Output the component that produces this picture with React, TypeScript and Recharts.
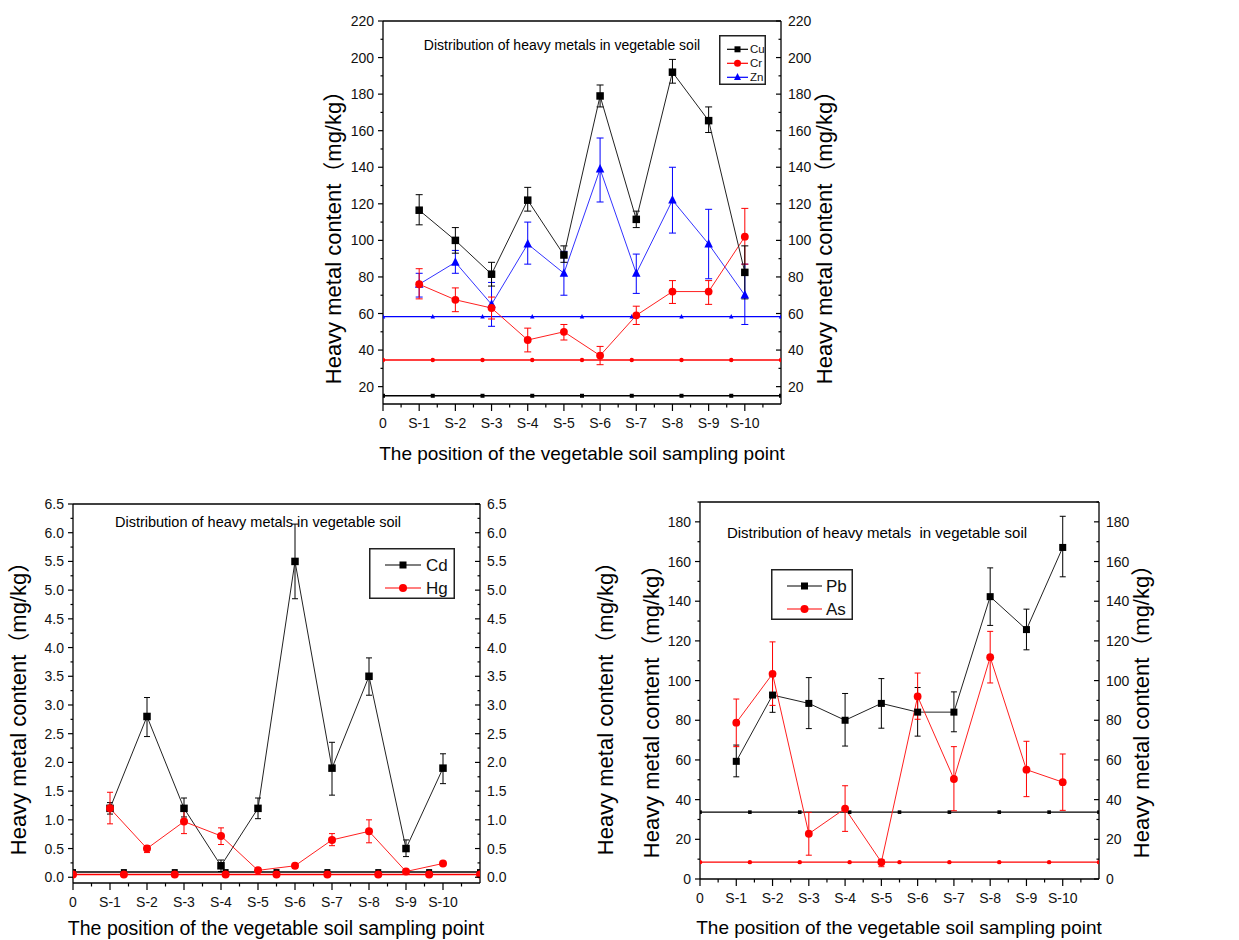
import React from 'react';
import { ComposedChart, Line, XAxis, YAxis, ErrorBar, ReferenceLine, Legend } from 'recharts';

// ---------- shared categories ----------
const X_LABELS = ['0', 'S-1', 'S-2', 'S-3', 'S-4', 'S-5', 'S-6', 'S-7', 'S-8', 'S-9', 'S-10'];
const X_TICKS = [0, 1, 2, 3, 4, 5, 6, 7, 8, 9, 10];
const SAMPLE_X = [1, 2, 3, 4, 5, 6, 7, 8, 9, 10];
const BG_X = [0, 1.375, 2.75, 4.125, 5.5, 6.875, 8.25, 9.625, 11];

// ---------- panel 1: Cu, Cr, Zn ----------
const CU = [116.5, 100, 81.5, 122, 92, 179, 111.5, 192, 165.5, 82.5];
const CU_HI = [125, 107, 88, 129, 97, 185, 116, 199, 173, 97];
const CU_LO = [108.5, 93, 75, 116, 88, 173, 107, 186, 159, 68];
const CR = [76, 67.5, 63, 45.5, 50, 37, 59, 72, 72, 102];
const CR_HI = [84.5, 74, 69, 52, 54, 42, 64, 78, 78, 117.5];
const CR_LO = [68, 61, 57, 39, 45.5, 32, 54, 65.5, 65, 87];
const ZN = [76, 88, 65, 98, 82, 139, 82, 122, 98, 70];
const ZN_HI = [82, 94.5, 77, 110, 94, 156, 92.5, 140, 117, 87];
const ZN_LO = [69, 82, 53, 87, 70, 121, 71, 104, 79, 54];
const CU_BG = [15, 15, 15, 15, 15, 15, 15, 15, 15];
const CR_BG = [34.6, 34.6, 34.6, 34.6, 34.6, 34.6, 34.6, 34.6, 34.6];
const ZN_BG = [58.3, 58.3, 58.3, 58.3, 58.3, 58.3, 58.3, 58.3, 58.3];
const Y1_TICKS = [20, 40, 60, 80, 100, 120, 140, 160, 180, 200, 220];

// ---------- panel 2: Cd, Hg ----------
const CD = [1.2, 2.8, 1.2, 0.2, 1.2, 5.5, 1.9, 3.5, 0.5, 1.9];
const CD_HI = [1.3, 3.13, 1.38, 0.3, 1.38, 6.15, 2.35, 3.82, 0.65, 2.15];
const CD_LO = [1.1, 2.45, 1.05, 0.1, 1.02, 4.85, 1.43, 3.17, 0.36, 1.63];
const HG = [1.2, 0.5, 0.97, 0.72, 0.12, 0.2, 0.65, 0.8, 0.1, 0.24];
const HG_HI = [1.48, 0.55, 1.15, 0.86, 0.16, 0.24, 0.76, 1.0, 0.12, 0.27];
const HG_LO = [0.93, 0.43, 0.76, 0.57, 0.08, 0.16, 0.55, 0.6, 0.08, 0.21];
const CD_BG = [0.09, 0.09, 0.09, 0.09, 0.09, 0.09, 0.09, 0.09, 0.09];
const HG_BG = [0.05, 0.05, 0.05, 0.05, 0.05, 0.05, 0.05, 0.05, 0.05];
const Y2_TICKS = [0, 0.5, 1, 1.5, 2, 2.5, 3, 3.5, 4, 4.5, 5, 5.5, 6, 6.5];

// ---------- panel 3: Pb, As ----------
const PB = [59.3, 92.7, 88.5, 80, 88.5, 84.1, 84.1, 142.3, 125.7, 167.1];
const PB_HI = [67.5, 102, 101.5, 93.5, 101, 96.5, 94.3, 156.8, 136, 182.8];
const PB_LO = [51.5, 84, 75.8, 67, 76, 72, 74.2, 127.8, 115.5, 152.3];
const AS = [78.8, 103.4, 22.8, 35.5, 8.5, 92, 50.4, 111.8, 55.1, 48.8];
const AS_HI = [90.7, 119.5, 33.6, 47, 9.8, 103.8, 66.7, 124.8, 69.4, 63];
const AS_LO = [66.7, 87.5, 12, 24, 6.2, 80.5, 34.4, 98.8, 41.5, 34.6];
const PB_BG = [33.7, 33.7, 33.7, 33.7, 33.7, 33.7, 33.7, 33.7, 33.7];
const AS_BG = [8.5, 8.5, 8.5, 8.5, 8.5, 8.5, 8.5, 8.5, 8.5];
const Y3_TICKS = [0, 20, 40, 60, 80, 100, 120, 140, 160, 180];

const TITLE = 'Distribution of heavy metals in vegetable soil';
const TITLE3 = 'Distribution of heavy metals\u00a0 in vegetable soil';
const Y_TITLE = 'Heavy metal content（mg/kg）';
const X_TITLE = 'The position of the vegetable soil sampling point';

const FONT = "'Liberation Sans', Arial, 'Noto Sans CJK SC', sans-serif";
const AX = '#000';

const series = (vals: number[], hi: number[], lo: number[]) =>
  SAMPLE_X.map((x, i) => ({ x, y: vals[i], err: [vals[i] - lo[i], hi[i] - vals[i]] }));
const bg = (vals: number[]) => BG_X.map((x, i) => ({ x, y: vals[i] }));

// ---------- markers ----------
const square = (s: number, fill: string) => (p: any) =>
  p.cx == null ? <g key={p.index} /> : (
    <rect key={p.index} x={p.cx - s / 2} y={p.cy - s / 2} width={s} height={s} fill={fill} />
  );
const circle = (r: number, fill: string) => (p: any) =>
  p.cx == null ? <g key={p.index} /> : <circle key={p.index} cx={p.cx} cy={p.cy} r={r} fill={fill} />;
const triangle = (s: number, fill: string) => (p: any) =>
  p.cx == null ? <g key={p.index} /> : (
    <polygon
      key={p.index}
      points={`${p.cx},${p.cy - s * 0.6} ${p.cx - s / 2},${p.cy + s * 0.4} ${p.cx + s / 2},${p.cy + s * 0.4}`}
      fill={fill}
    />
  );

// ---------- ticks ----------
const makeXTick = (pxPerUnit: number) => (p: any) => {
  const { x, y, payload } = p;
  const v = payload.value as number;
  return (
    <g>
      <line x1={x} x2={x} y1={y} y2={y + 7} stroke={AX} strokeWidth={1.2} />
      <line x1={x + pxPerUnit / 2} x2={x + pxPerUnit / 2} y1={y} y2={y + 3.5} stroke={AX} strokeWidth={1.2} />
      <text x={x} y={y + 24} textAnchor="middle" fontSize={14} fontFamily={FONT} fill="#111">
        {X_LABELS[v]}
      </text>
    </g>
  );
};

const makeYTick = (side: 'left' | 'right', halfPx: number, top: number, fmt: (v: number) => string) => (p: any) => {
  const { x, y, payload } = p;
  const v = payload.value as number;
  const dir = side === 'left' ? -1 : -1; // left: outward; right: inward
  const showMinor = v < top;
  return (
    <g>
      <line x1={x} x2={x + dir * 5} y1={y} y2={y} stroke={AX} strokeWidth={1.2} />
      {showMinor && <line x1={x} x2={x + dir * 2.5} y1={y - halfPx} y2={y - halfPx} stroke={AX} strokeWidth={1.2} />}
      <text
        x={side === 'left' ? x - 9 : x + 7}
        y={y}
        dy="0.36em"
        textAnchor={side === 'left' ? 'end' : 'start'}
        fontSize={14}
        fontFamily={FONT}
        fill="#111"
      >
        {fmt(v)}
      </text>
    </g>
  );
};

// ---------- legend ----------
type LegItem = { name: string; color: string; marker: (p: any) => any };
const makeLegend = (items: LegItem[], w: number, h: number, rows: number[], l0: number, l1: number, tx: number, fs: number) => () => (
  <svg width={w} height={h} style={{ display: 'block' }}>
    <rect x={0.75} y={0.75} width={w - 1.5} height={h - 1.5} fill="#fff" stroke="#222" strokeWidth={1.5} />
    {items.map((it, i) => (
      <g key={it.name}>
        <line x1={l0} x2={l1} y1={rows[i]} y2={rows[i]} stroke={it.color} strokeWidth={1.2} />
        {it.marker({ cx: (l0 + l1) / 2, cy: rows[i], index: i })}
        <text x={tx} y={rows[i]} dy="0.36em" fontSize={fs} fontFamily={FONT} fill="#111">
          {it.name}
        </text>
      </g>
    ))}
  </svg>
);

// ---------- text overlays ----------
const VText = ({ cx, cy, size }: { cx: number; cy: number; size: number }) => (
  <div
    style={{
      position: 'absolute', left: cx, top: cy, transform: 'translate(-50%,-50%) rotate(-90deg)',
      whiteSpace: 'nowrap', fontSize: size, fontFamily: FONT, color: '#000', lineHeight: 1,
    }}
  >
    {Y_TITLE}
  </div>
);
const HText = ({ cx, cy, size, text }: { cx: number; cy: number; size: number; text: string }) => (
  <div
    style={{
      position: 'absolute', left: cx, top: cy, transform: 'translate(-50%,-50%)',
      whiteSpace: 'nowrap', fontSize: size, fontFamily: FONT, color: '#000', lineHeight: 1,
    }}
  >
    {text}
  </div>
);

const axisLine = { stroke: AX, strokeWidth: 1.3 };

export default function App() {
  // panel 1 geometry: plot 398 x 383, x domain 0..11, y domain 10.5..220
  const p1x = 398 / 11;
  const p1y = (383 / 209.5) * 10;
  // panel 2: plot 407 x 379, y domain -0.1..6.5
  const p2x = 407 / 11;
  const p2y = (379 / 6.6) * 0.25;
  // panel 3: plot 399 x 377, y domain 0..190
  const p3x = 399 / 11;
  const p3y = (377 / 190) * 10;

  const f0 = (v: number) => String(v);
  const f1 = (v: number) => v.toFixed(1);

  return (
    <div style={{ position: 'absolute', left: 0, top: 0, width: 1239, height: 940, background: '#fff', overflow: 'hidden' }}>
      {/* ---------- Panel 1 ---------- */}
      <div style={{ position: 'absolute', left: 310, top: 0 }}>
        <ComposedChart width={540} height={470} margin={{ top: 21, right: 0, bottom: 0, left: 0 }}>
          <XAxis type="number" dataKey="x" domain={[0, 11]} ticks={X_TICKS} interval={0} tick={makeXTick(p1x)}
            tickLine={false} tickSize={0} tickMargin={0} axisLine={axisLine} height={66} allowDataOverflow />
          <YAxis yAxisId="left" type="number" domain={[10.5, 220]} ticks={Y1_TICKS} interval={0} width={73}
            tick={makeYTick('left', p1y, 220, f0)} tickLine={false} tickSize={0} tickMargin={0} axisLine={axisLine} allowDataOverflow />
          <YAxis yAxisId="right" orientation="right" type="number" domain={[10.5, 220]} ticks={Y1_TICKS} interval={0} width={69}
            tick={makeYTick('right', p1y, 220, f0)} tickLine={false} tickSize={0} tickMargin={0} axisLine={axisLine} allowDataOverflow />
          <ReferenceLine yAxisId="left" y={220} stroke={AX} strokeWidth={1.3} />
          <Line yAxisId="right" data={bg(CU_BG)} dataKey="y" stroke="#000" strokeWidth={1.4} dot={square(4, '#000')} activeDot={false} isAnimationActive={false} />
          <Line yAxisId="right" data={bg(CR_BG)} dataKey="y" stroke="#ff0000" strokeWidth={1.4} dot={circle(2.2, '#ff0000')} activeDot={false} isAnimationActive={false} />
          <Line yAxisId="right" data={bg(ZN_BG)} dataKey="y" stroke="#0000ff" strokeWidth={1.4} dot={triangle(4.5, '#0000ff')} activeDot={false} isAnimationActive={false} />
          <Line yAxisId="left" data={series(ZN, ZN_HI, ZN_LO)} dataKey="y" stroke="#3333ff" strokeWidth={1} dot={triangle(8.5, '#0000ff')} activeDot={false} isAnimationActive={false}>
            <ErrorBar dataKey="err" width={3.5} stroke="#0000ff" strokeWidth={1} direction="y" />
          </Line>
          <Line yAxisId="left" data={series(CR, CR_HI, CR_LO)} dataKey="y" stroke="#ff2020" strokeWidth={1} dot={circle(3.9, '#ff0000')} activeDot={false} isAnimationActive={false}>
            <ErrorBar dataKey="err" width={3.5} stroke="#ff0000" strokeWidth={1} direction="y" />
          </Line>
          <Line yAxisId="left" data={series(CU, CU_HI, CU_LO)} dataKey="y" stroke="#222" strokeWidth={1} dot={square(7.5, '#000')} activeDot={false} isAnimationActive={false}>
            <ErrorBar dataKey="err" width={3.5} stroke="#000" strokeWidth={1} direction="y" />
          </Line>
          <Legend layout="vertical" align="center" verticalAlign="middle"
            wrapperStyle={{ position: 'absolute', left: 409, top: 35, width: 47, height: 50 }}
            content={makeLegend([
              { name: 'Cu', color: '#000', marker: square(6, '#000') },
              { name: 'Cr', color: '#ff0000', marker: circle(3.5, '#ff0000') },
              { name: 'Zn', color: '#0000ff', marker: triangle(7, '#0000ff') },
            ], 47, 50, [14.3, 28.3, 42.3], 8, 29, 31, 11.5)} />
        </ComposedChart>
      </div>
      <HText cx={562} cy={45} size={14} text={TITLE} />
      <VText cx={334} cy={232} size={22} />
      <VText cx={825} cy={232} size={22} />
      <HText cx={582} cy={453} size={19} text={X_TITLE} />

      {/* ---------- Panel 2 ---------- */}
      <div style={{ position: 'absolute', left: 0, top: 480 }}>
        <ComposedChart width={620} height={460} margin={{ top: 24, right: 0, bottom: 0, left: 0 }}>
          <XAxis type="number" dataKey="x" domain={[0, 11]} ticks={X_TICKS} interval={0} tick={makeXTick(p2x)}
            tickLine={false} tickSize={0} tickMargin={0} axisLine={axisLine} height={57} allowDataOverflow />
          <YAxis yAxisId="left" type="number" domain={[-0.1, 6.5]} ticks={Y2_TICKS} interval={0} width={73}
            tick={makeYTick('left', p2y, 6.5, f1)} tickLine={false} tickSize={0} tickMargin={0} axisLine={axisLine} allowDataOverflow />
          <YAxis yAxisId="right" orientation="right" type="number" domain={[-0.1, 6.5]} ticks={Y2_TICKS} interval={0} width={140}
            tick={makeYTick('right', p2y, 6.5, f1)} tickLine={false} tickSize={0} tickMargin={0} axisLine={axisLine} allowDataOverflow />
          <ReferenceLine yAxisId="left" y={6.5} stroke={AX} strokeWidth={1.3} />
          <Line yAxisId="right" data={bg(CD_BG)} dataKey="y" stroke="#000" strokeWidth={1.5} dot={square(6, '#000')} activeDot={false} isAnimationActive={false} />
          <Line yAxisId="right" data={bg(HG_BG)} dataKey="y" stroke="#ff0000" strokeWidth={1.5} dot={circle(4, '#ff0000')} activeDot={false} isAnimationActive={false} />
          <Line yAxisId="left" data={series(CD, CD_HI, CD_LO)} dataKey="y" stroke="#222" strokeWidth={1} dot={square(7.5, '#000')} activeDot={false} isAnimationActive={false}>
            <ErrorBar dataKey="err" width={3} stroke="#000" strokeWidth={1} direction="y" />
          </Line>
          <Line yAxisId="left" data={series(HG, HG_HI, HG_LO)} dataKey="y" stroke="#ff2020" strokeWidth={1} dot={circle(4, '#ff0000')} activeDot={false} isAnimationActive={false}>
            <ErrorBar dataKey="err" width={3} stroke="#ff0000" strokeWidth={1} direction="y" />
          </Line>
          <Legend layout="vertical" align="center" verticalAlign="middle"
            wrapperStyle={{ position: 'absolute', left: 369, top: 68, width: 86, height: 51 }}
            content={makeLegend([
              { name: 'Cd', color: '#000', marker: square(7, '#000') },
              { name: 'Hg', color: '#ff0000', marker: circle(4, '#ff0000') },
            ], 86, 51, [17, 40], 16, 52, 57, 17)} />
        </ComposedChart>
      </div>
      <HText cx={258} cy={522} size={14.5} text={TITLE} />
      <VText cx={19} cy={703} size={22} />
      <VText cx={606} cy={703} size={22} />
      <HText cx={276} cy={929} size={19.5} text={X_TITLE} />

      {/* ---------- Panel 3 ---------- */}
      <div style={{ position: 'absolute', left: 630, top: 480 }}>
        <ComposedChart width={609} height={460} margin={{ top: 22, right: 0, bottom: 0, left: 0 }}>
          <XAxis type="number" dataKey="x" domain={[0, 11]} ticks={X_TICKS} interval={0} tick={makeXTick(p3x)}
            tickLine={false} tickSize={0} tickMargin={0} axisLine={axisLine} height={61} allowDataOverflow />
          <YAxis yAxisId="left" type="number" domain={[0, 190]} ticks={Y3_TICKS} interval={0} width={70}
            tick={makeYTick('left', p3y, 999, f0)} tickLine={false} tickSize={0} tickMargin={0} axisLine={axisLine} allowDataOverflow />
          <YAxis yAxisId="right" orientation="right" type="number" domain={[0, 190]} ticks={Y3_TICKS} interval={0} width={140}
            tick={makeYTick('right', p3y, 999, f0)} tickLine={false} tickSize={0} tickMargin={0} axisLine={axisLine} allowDataOverflow />
          <ReferenceLine yAxisId="left" y={190} stroke={AX} strokeWidth={1.3} />
          <Line yAxisId="right" data={bg(PB_BG)} dataKey="y" stroke="#000" strokeWidth={1.4} dot={square(3.6, '#000')} activeDot={false} isAnimationActive={false} />
          <Line yAxisId="right" data={bg(AS_BG)} dataKey="y" stroke="#ff0000" strokeWidth={1.4} dot={circle(2.2, '#ff0000')} activeDot={false} isAnimationActive={false} />
          <Line yAxisId="left" data={series(PB, PB_HI, PB_LO)} dataKey="y" stroke="#222" strokeWidth={1} dot={square(7, '#000')} activeDot={false} isAnimationActive={false}>
            <ErrorBar dataKey="err" width={3} stroke="#000" strokeWidth={1} direction="y" />
          </Line>
          <Line yAxisId="left" data={series(AS, AS_HI, AS_LO)} dataKey="y" stroke="#ff2020" strokeWidth={1} dot={circle(3.9, '#ff0000')} activeDot={false} isAnimationActive={false}>
            <ErrorBar dataKey="err" width={3} stroke="#ff0000" strokeWidth={1} direction="y" />
          </Line>
          <Legend layout="vertical" align="center" verticalAlign="middle"
            wrapperStyle={{ position: 'absolute', left: 141, top: 89, width: 82, height: 51 }}
            content={makeLegend([
              { name: 'Pb', color: '#000', marker: square(7, '#000') },
              { name: 'As', color: '#ff0000', marker: circle(4, '#ff0000') },
            ], 82, 51, [17, 40], 16, 51, 55, 17)} />
        </ComposedChart>
      </div>
      <HText cx={877} cy={532} size={15} text={TITLE3} />
      <VText cx={652} cy={706} size={22} />
      <VText cx={1142} cy={706} size={22} />
      <HText cx={899} cy={927} size={19} text={X_TITLE} />
    </div>
  );
}
